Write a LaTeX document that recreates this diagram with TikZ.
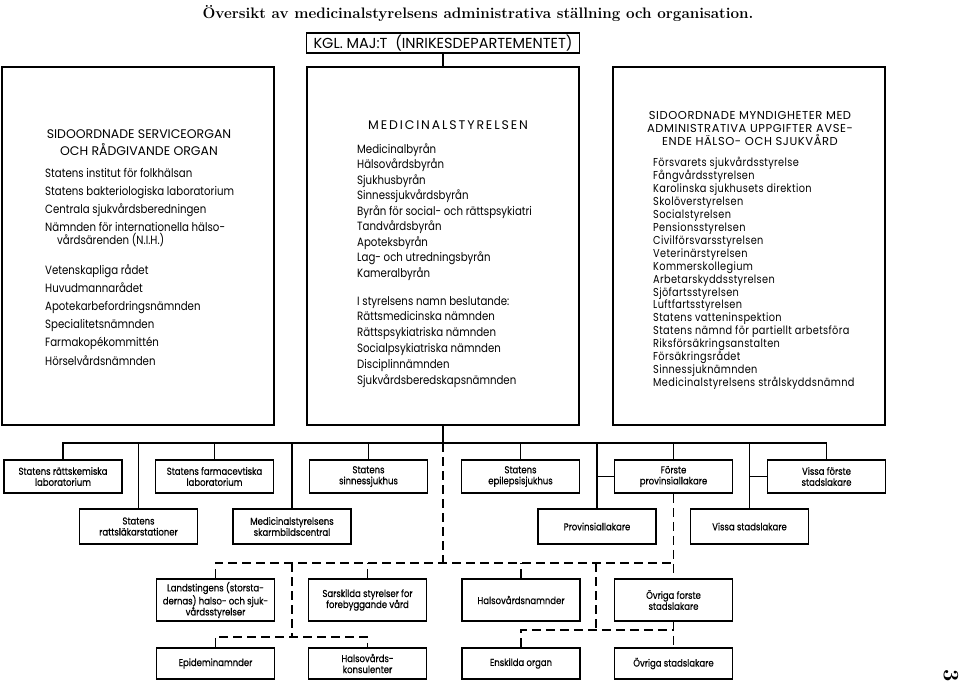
\documentclass[tikz,border=0pt]{standalone}
\usepackage{fontspec}
\newfontfamily\orgfont[FakeStretch=0.85]{Poppins}
\newfontfamily\headfont{Poppins}
\newfontfamily\unitfont[FakeStretch=0.85,FakeBold=0.6]{Poppins}

\begin{document}
\begin{tikzpicture}[x=1pt, y=-1pt,
        bigbox/.style={draw, line width=1.9pt, minimum width=272pt, minimum height=358pt, inner sep=0pt},
        unit/.style={draw, line width=1.8pt, minimum width=118pt, minimum height=33pt, inner sep=1pt, align=center, font=\unitfont\fontsize{10}{11}\selectfont},
        list/.style={anchor=north west, align=left, inner sep=0pt},
        head/.style={anchor=north, align=center, inner sep=0pt},
        link/.style={line width=1.6pt},
        dlink/.style={line width=1.6pt, dash pattern=on 9pt off 5pt}]
    \useasboundingbox (0,0) rectangle (960,688);
    % rubrik
    \node (title) at (478,13) {\fontsize{15.2}{17}\selectfont\bfseries Översikt av medicinalstyrelsens administrativa ställning och organisation.};
    \node[draw, line width=1.6pt, minimum width=273pt, minimum height=20pt, inner sep=0pt, font=\headfont\fontsize{14.5}{16}\selectfont] (kgl) at (443,43) {KGL. MAJ:T\ \ (INRIKESDEPARTEMENTET)};
    % de tre stora rutorna
    \node[bigbox] (side) at (138,246) {};
    \node[bigbox] (mst) at (443,246) {};
    \node[bigbox] (myn) at (749,246) {};
    \draw[link] (kgl) -- (mst) ;
    % vanster ruta
    \node[head, font=\headfont\fontsize{12.5}{17}\selectfont] (sidehead) at (139,129) {SIDOORDNADE SERVICEORGAN\\OCH RÅDGIVANDE ORGAN};
    \node[list, font=\orgfont\fontsize{12}{18.2}\selectfont] (sidea) at (45,168) {Statens institut för folkhälsan\\Statens bakteriologiska laboratorium\\Centrala sjukvårdsberedningen\\Nämnden för internationella hälso-\\[-6pt]\hspace*{12pt}vårdsärenden (N.I.H.)};
    \node[list, font=\orgfont\fontsize{12}{18.2}\selectfont] (sideb) at (45,264) {Vetenskapliga rådet\\Huvudmannarådet\\Apotekarbefordringsnämnden\\Specialitetsnämnden\\Farmakopékommittén\\Hörselvårdsnämnden};
    % mittre ruta
    \node[head, font=\headfont\fontsize{12.5}{17}\selectfont\addfontfeatures{LetterSpace=15}] (msthead) at (448,120) {MEDICINALSTYRELSEN};
    \node[list, font=\orgfont\fontsize{12}{15.5}\selectfont] (msta) at (357,143) {Medicinalbyrån\\Hälsovårdsbyrån\\Sjukhusbyrån\\Sinnessjukvårdsbyrån\\Byrån för social- och rättspsykiatri\\Tandvårdsbyrån\\Apoteksbyrån\\Lag- och utredningsbyrån\\Kameralbyrån};
    \node[list, font=\orgfont\fontsize{12}{15.8}\selectfont] (mstb) at (357,296) {I styrelsens namn beslutande:\\Rättsmedicinska nämnden\\Rättspsykiatriska nämnden\\Socialpsykiatriska nämnden\\Disciplinnämnden\\Sjukvårdsberedskapsnämnden};
    % hoger ruta
    \node[head, font=\headfont\fontsize{11.5}{13}\selectfont\addfontfeatures{LetterSpace=5}] (mynhead) at (750,111) {SIDOORDNADE MYNDIGHETER MED\\ADMINISTRATIVA UPPGIFTER AVSE-\\ENDE HÄLSO- OCH SJUKVÅRD};
    \node[list, font=\orgfont\fontsize{11.5}{12.94}\selectfont\addfontfeatures{LetterSpace=3}] (myna) at (653,157) {Försvarets sjukvårdsstyrelse\\Fångvårdsstyrelsen\\Karolinska sjukhusets direktion\\Skolöverstyrelsen\\Socialstyrelsen\\Pensionsstyrelsen\\Civilförsvarsstyrelsen\\Veterinärstyrelsen\\Kommerskollegium\\Arbetarskyddsstyrelsen\\Sjöfartsstyrelsen\\Luftfartsstyrelsen\\Statens vatteninspektion\\Statens nämnd för partiellt arbetsföra\\Riksförsäkringsanstalten\\Försäkringsrådet\\Sinnessjuknämnden\\Medicinalstyrelsens strålskyddsnämnd};
    % underordnade organ
    \node[unit] (rk) at (63,476.5) {Statens rättskemiska\\laboratorium};
    \node[unit] (fl) at (214.5,476.5) {Statens farmacevtiska\\laboratorium};
    \node[unit] (ss) at (368.5,476.5) {Statens\\sinnessjukhus};
    \node[unit] (ep) at (520.5,476.5) {Statens\\epilepsisjukhus};
    \node[unit] (fp) at (673.5,476.5) {Förste\\provinsiallakare};
    \node[unit] (vfs) at (826.5,476.5) {Vissa förste\\stadslakare};
    \node[unit, minimum height=35pt] (rl) at (138.5,526.5) {Statens\\rattsläkarstationer};
    \node[unit, minimum height=35pt] (sk) at (292,526.5) {Medicinalstyrelsens\\skarmbildscentral};
    \node[unit, minimum height=35pt] (pl) at (597,526.5) {Provinsiallakare};
    \node[unit, minimum height=35pt] (vs) at (749.5,526.5) {Vissa stadslakare};
    \node[unit, minimum height=42pt] (ls) at (215.5,600) {Landstingens (storsta-\\dernas) halso- och sjuk-\\vårdsstyrelser};
    \node[unit, minimum height=42pt] (sv) at (367.5,600) {Sarskilda styrelser for\\forebyggande vård};
    \node[unit, minimum height=42pt] (hn) at (521,600) {Halsovårdsnamnder};
    \node[unit, minimum height=42pt] (of) at (673.5,600) {Övriga forste\\stadslakare};
    \node[unit, minimum height=31pt] (epi) at (215.5,663.5) {Epideminamnder};
    \node[unit, minimum height=31pt] (hk) at (367.5,663.5) {Halsovårds-\\konsulenter};
    \node[unit, minimum height=31pt] (eo) at (521,663.5) {Enskilda organ};
    \node[unit, minimum height=31pt] (os) at (673.5,663.5) {Övriga stadslakare};
    % samlingslinjer
    \coordinate (bus) at (443,443) ;
    \coordinate (land) at (443,563) ;
    \coordinate (lowl) at (292,637) ;
    \coordinate (lowr) at (596,630) ;
    \draw[link] (mst) -- (bus) ;
    \draw[link] (rk.north) |- (bus) -| (vfs.north) ;
    \draw[link] (fl.north) -- (fl.north |- bus) ;
    \draw[link] (ss.north) -- (ss.north |- bus) ;
    \draw[link] (ep.north) -- (ep.north |- bus) ;
    \draw[link] (fp.north) -- (fp.north |- bus) ;
    \draw[link] (rl.north) -- (rl.north |- bus) ;
    \draw[link] (sk.north) -- (sk.north |- bus) ;
    \draw[link] (pl.north) -- (pl.north |- bus) ;
    \draw[link] (vs.north) -- (vs.north |- bus) ;
    \draw[link] (fp.west) -- (fp.west -| pl.north) ;
    \draw[link] (vfs.west) -- (vfs.west -| vs.north) ;
    % streckade linjer
    \draw[dlink] (bus) -- (land) ;
    \draw[dlink] (ls.north) |- (land) -| (of.north |- land) ;
    \draw[dlink] (fp.south) -- (of.north) ;
    \draw[dlink] (of.south) -- (os.north) ;
    \draw[dlink] (sv.north) -- (sv.north |- land) ;
    \draw[dlink] (hn.north) -- (hn.north |- land) ;
    \draw[dlink] (lowl |- land) -- (lowl) ;
    \draw[dlink] (epi.north) |- (lowl) -| (hk.north) ;
    \draw[dlink] (lowr |- land) -- (lowr) ;
    \draw[dlink] (eo.north) |- (lowr) -- (of.south |- lowr) ;
    % sidnummer
    \node[rotate=-90, font=\fontsize{22}{22}\selectfont\bfseries] (pagenr) at (951,676) {3};
\end{tikzpicture}
\end{document}
